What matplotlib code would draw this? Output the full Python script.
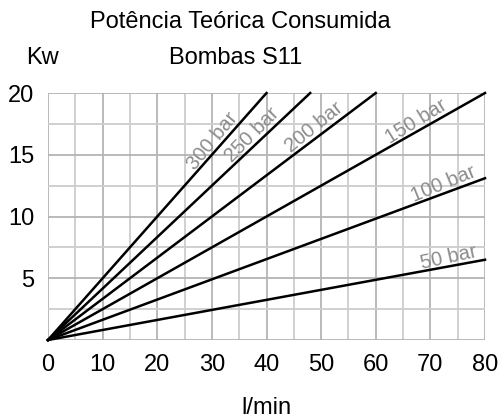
import matplotlib.pyplot as plt
import numpy as np

plt.rcParams['font.family'] = ['Liberation Sans', 'DejaVu Sans']

# Pressões e pontos finais das retas
pressures = ['50 bar', '100 bar', '150 bar', '200 bar', '250 bar', '300 bar']
end_flow = [80, 80, 80, 60, 48, 40]
end_power = [6.5, 13.1, 20, 20, 20, 20]
# posição x dos rótulos
label_x = [73.6, 73, 68.3, 49.8, 38.5, 31.3]

x_ticks = [0, 10, 20, 30, 40, 50, 60, 70, 80]
y_ticks = [5, 10, 15, 20]

fig = plt.figure(figsize=(5, 4.19), dpi=100)
ax = fig.add_axes([0.096, 0.1885, 0.874, 0.5895])
ax.set_xlim(0, 80)
ax.set_ylim(0, 20)

# grade
for gx in np.arange(0, 81, 5):
    c = '#b4b4b4' if gx % 10 == 0 else '#cdcdcd'
    ax.axvline(gx, color=c, lw=1.3, zorder=1)
for gy in np.arange(0, 20.1, 2.5):
    c = '#b4b4b4' if gy % 5 == 0 else '#cdcdcd'
    ax.axhline(gy, color=c, lw=1.3, zorder=1)

for s in ax.spines.values():
    s.set_visible(False)

ax.set_xticks(x_ticks)
ax.set_yticks(y_ticks)
ax.tick_params(length=0, labelsize=17, pad=10)
ax.tick_params(axis='y', pad=10)

fig.canvas.draw()
for name, fx, fy, lx in zip(pressures, end_flow, end_power, label_x):
    ax.plot([0, fx], [0, fy], color='black', lw=1.8, zorder=3, clip_on=False)
    slope = fy / fx
    p1 = ax.transData.transform((0, 0))
    p2 = ax.transData.transform((fx, fy))
    a = np.arctan2(p2[1] - p1[1], p2[0] - p1[0])
    d = 6.6
    ax.annotate(name, (lx, slope * lx), xytext=(-d * np.sin(a), d * np.cos(a)),
                textcoords='offset points', rotation=np.degrees(a) + 2,
                rotation_mode='anchor', ha='center', va='center',
                color='#8c8c8c', fontsize=14.5, zorder=4)

fig.text(0.48, 0.947, 'Potência Teórica Consumida', ha='center', va='center', fontsize=17)
fig.text(0.472, 0.862, 'Bombas S11', ha='center', va='center', fontsize=17)
fig.text(0.084, 0.862, 'Kw', ha='center', va='center', fontsize=17)
fig.text(0.532, 0.027, 'l/min', ha='center', va='center', fontsize=17)

fig.savefig('out.png', dpi=100)
